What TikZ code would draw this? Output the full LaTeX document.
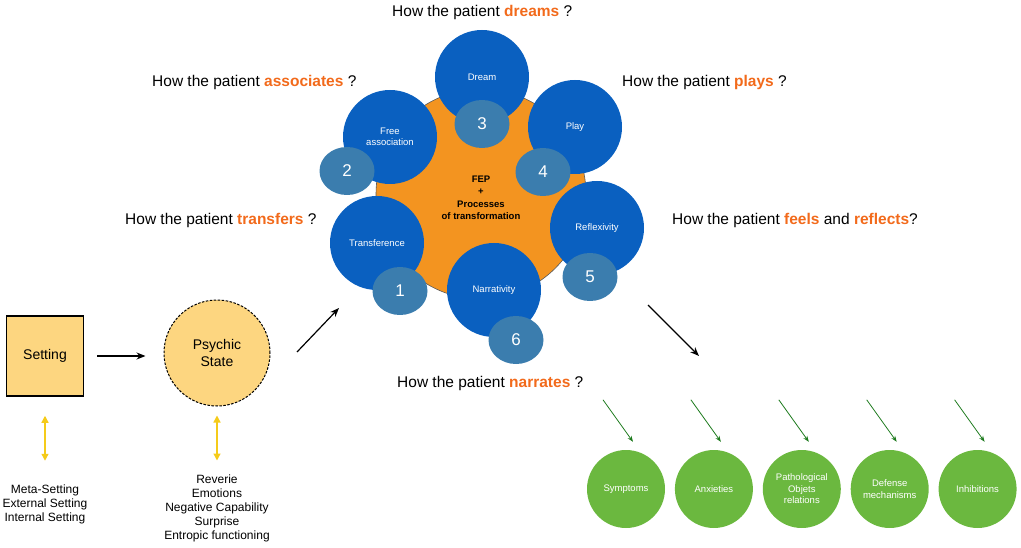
\documentclass[tikz,border=0pt]{standalone}
\usepackage{fontspec}
\setmainfont{Liberation Sans}
\usepackage{xcolor}
\usetikzlibrary{arrows.meta, positioning, shapes.geometric}

\definecolor{procblue}{HTML}{0A60C0}
\definecolor{numteal}{HTML}{3B7DAE}
\definecolor{feporange}{HTML}{F39420}
\definecolor{askorange}{HTML}{F26A1B}
\definecolor{outgreen}{HTML}{6BB83F}
\definecolor{arrgreen}{HTML}{1E7B1E}
\definecolor{setfill}{HTML}{FDD680}
\definecolor{setyellow}{HTML}{F5CB1A}

\begin{document}
\begin{tikzpicture}[
  x = 1pt, y = -1pt,
  node distance = 9.5pt,
  ask/.style = {anchor=west, inner sep=0pt, font=\fontsize{15.5}{18}\selectfont},
  proc/.style = {circle, fill=procblue, text=white, minimum size=94pt,
                 inner sep=0pt, align=center, font=\fontsize{9.5}{11.5}\selectfont},
  num/.style = {ellipse, fill=numteal, text=white, minimum width=55pt,
                minimum height=48pt, inner sep=0pt, font=\fontsize{17}{17}\selectfont},
  outcome/.style = {circle, fill=outgreen, text=white, minimum size=78pt,
                    inner sep=0pt, align=center, font=\fontsize{9.5}{11.5}\selectfont},
  list/.style = {align=center, inner sep=0pt, font=\fontsize{12}{14}\selectfont},
  arrow/.style = {-{Stealth[length=9pt,width=7pt]}, line width=1.2pt},
  both/.style = {{Triangle[length=7pt,width=7pt]}-{Triangle[length=7pt,width=7pt]},
                 line width=1.3pt, draw=setyellow},
  garrow/.style = {-{Stealth[length=6pt,width=4.5pt]}, line width=0.8pt, draw=arrgreen},
]
\useasboundingbox (0,0) rectangle (1021,548);

\node[draw, line width=1.5pt, fill=setfill, minimum width=77pt, minimum height=80pt,
      font=\fontsize{14}{16}\selectfont] (setting) at (45,356) {Setting};
\node[circle, draw, line width=1pt, dash pattern=on 2.5pt off 1.5pt, fill=setfill,
      minimum size=106pt, align=center, font=\fontsize{14}{17}\selectfont]
      (psy) at (217,353) {Psychic\\State};
\node[list] (setlist) at (45,504) {Meta-Setting\\External Setting\\Internal Setting};
\node[list] (psylist) at (217,508) {Reverie\\Emotions\\Negative Capability\\Surprise\\Entropic functioning};

\node[circle, draw=black!65, line width=0.6pt, fill=feporange, minimum size=210pt]
      (fep) at (481,194) {};
\node[proc] (dream) at (482,77) {Dream};
\node[proc] (free) at (390,137) {Free\\association};
\node[proc] (play) at (575,127) {Play};
\node[proc] (refl) at (597,228) {Reflexivity};
\node[proc] (trans) at (377,243) {Transference};
\node[proc] (narr) at (494,290) {Narrativity};
\node[align=center, font=\bfseries\fontsize{9.5}{12.5}\selectfont] (feptext) at (481,198)
      {FEP\\+\\Processes\\of transformation};

\node[num] (n1) at (400,291) {1};
\node[num] (n2) at (347,171) {2};
\node[num] (n3) at (482,124) {3};
\node[num] (n4) at (543,172) {4};
\node[num] (n5) at (590,277) {5};
\node[num] (n6) at (516,340) {6};

\node[ask] (qdream) at (392,12) {How the patient \textbf{\textcolor{askorange}{dreams}} ?};
\node[ask] (qassoc) at (152,82) {How the patient \textbf{\textcolor{askorange}{associates}} ?};
\node[ask] (qplay) at (622,82) {How the patient \textbf{\textcolor{askorange}{plays}} ?};
\node[ask] (qtrans) at (125,220) {How the patient \textbf{\textcolor{askorange}{transfers}} ?};
\node[ask] (qfeel) at (672,220) {How the patient \textbf{\textcolor{askorange}{feels}} and \textbf{\textcolor{askorange}{reflects}}?};
\node[ask] (qnarr) at (397,383) {How the patient \textbf{\textcolor{askorange}{narrates}} ?};

\node[outcome] (sym) at (626,489) {Symptoms};
\node[outcome, right=of sym] (anx) {Anxieties};
\node[outcome, right=of anx] (pat) {Pathological\\Objets\\relations};
\node[outcome, right=of pat] (def) {Defense\\mechanisms};
\node[outcome, right=of def] (inh) {Inhibitions};

\coordinate (inS) at (297,352);
\coordinate (inE) at (339,308);
\coordinate (outS) at (648,305);
\coordinate (outE) at (699,356);

\draw[arrow, shorten <=13pt, shorten >=18pt] (setting.east) -- (setting.east -| psy.west);
\draw[arrow] (inS) -- (inE);
\draw[arrow] (outS) -- (outE);
\draw[both] ([yshift=-19pt]setting.south) -- ([yshift=-64pt]setting.south);
\draw[both] ([yshift=-9pt]psy.south) -- ([yshift=-54pt]psy.south);
\foreach \o in {sym,anx,pat,def,inh}
  \draw[garrow] ([shift={(-23pt,50pt)}]\o.north) -- ([shift={(7pt,8pt)}]\o.north);
\end{tikzpicture}
\end{document}
